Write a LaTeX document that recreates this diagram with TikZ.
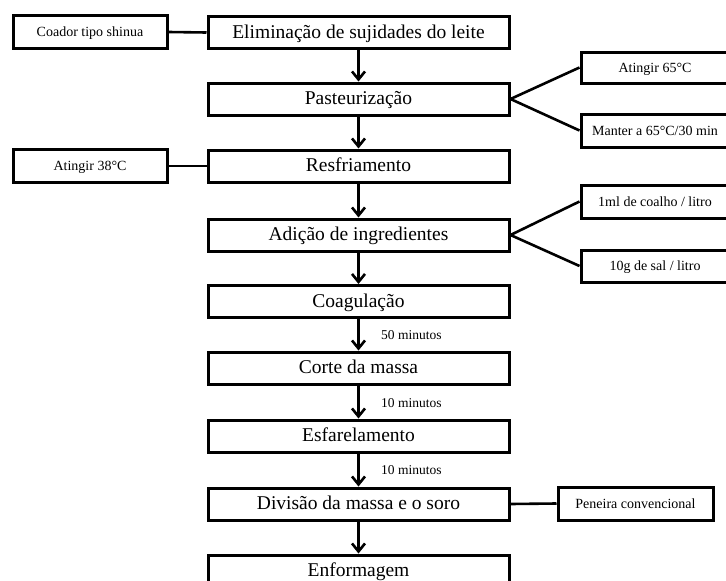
\documentclass[tikz,border=0pt]{standalone}
\usepackage{fontspec}
\setmainfont{Liberation Serif}
\usetikzlibrary{arrows.meta}
\begin{document}
\begin{tikzpicture}[x=1pt,y=-1pt,
  mainbox/.style={draw,line width=3pt,minimum width=301pt,minimum height=32pt,inner sep=0pt,text height=14.6pt,text depth=3.6pt,font=\fontsize{19.5}{21}\selectfont},
  sidebox/.style={draw,line width=3pt,minimum height=32pt,inner sep=0pt,text height=11pt,text depth=2pt,font=\fontsize{14}{16}\selectfont},
  flow/.style={line width=2.6pt,-{Straight Barb[length=8pt,width=13pt,line width=2.6pt]}},
  link/.style={line width=2.6pt},
  timelbl/.style={anchor=west,font=\fontsize{13.5}{15}\selectfont,inner sep=0pt}]
\useasboundingbox (0,0) rectangle (726,581);
% main column
\node[mainbox] (m1) at (358.5,32.5) {Eliminação de sujidades do leite};
\node[mainbox] (m2) at (358.5,99) {Pasteurização};
\node[mainbox] (m3) at (358.5,166) {Resfriamento};
\node[mainbox] (m4) at (358.5,235) {Adição de ingredientes};
\node[mainbox] (m5) at (358.5,301.5) {Coagulação};
\node[mainbox] (m6) at (358.5,368) {Corte da massa};
\node[mainbox] (m7) at (358.5,436) {Esfarelamento};
\node[mainbox] (m8) at (358.5,504) {Divisão da massa e o soro};
\node[mainbox] (m9) at (358.5,571) {Enformagem};
% side boxes
\node[sidebox,minimum width=154pt,minimum height=33pt] (l1) at (90,32) {Coador tipo shinua};
\node[sidebox,minimum width=154pt,minimum height=33pt] (l2) at (90,166) {Atingir 38°C};
\node[sidebox,minimum width=148pt,minimum height=31pt] (r1) at (655,67.5) {Atingir 65°C};
\node[sidebox,minimum width=148pt,minimum height=33pt] (r2) at (655,130.5) {Manter a 65°C/30 min};
\node[sidebox,minimum width=148pt,minimum height=33pt] (r3) at (655,201.5) {1ml de coalho / litro};
\node[sidebox,minimum width=148pt,minimum height=32pt] (r4) at (655,266) {10g de sal / litro};
\node[sidebox,minimum width=155pt,minimum height=33pt] (r5) at (635.5,503.5) {Peneira convencional};
% flow arrows
\foreach \a/\b in {m1/m2,m2/m3,m3/m4,m4/m5,m5/m6,m6/m7,m7/m8,m8/m9}
  \draw[flow] (\a.south) -- (\b.north);
% time labels
\node[timelbl] (t1) at (381,335) {50 minutos};
\node[timelbl] (t2) at (381,403) {10 minutos};
\node[timelbl] (t3) at (381,470) {10 minutos};
% side links
\draw[link] (l1.east) -- (m1.west);
\draw[link] (l2.east) -- (m3.west);
\draw[link] (m2.east) -- (r1.west);
\draw[link] (m2.east) -- (r2.west);
\draw[link] (m4.east) -- (r3.west);
\draw[link] (m4.east) -- (r4.west);
\draw[link] (m8.east) -- (r5.west);
\end{tikzpicture}
\end{document}
